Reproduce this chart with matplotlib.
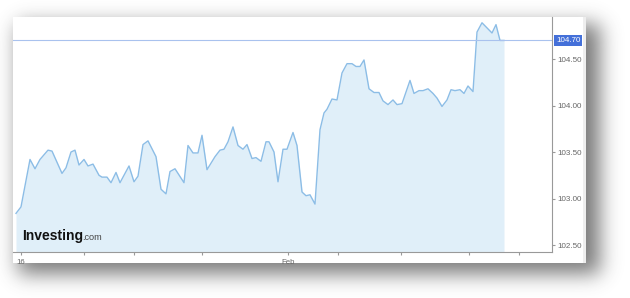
import numpy as np
import matplotlib.pyplot as plt
from matplotlib.patches import Rectangle
import matplotlib.transforms as mtransforms

# time position (chart units) and price
t = [16, 21, 30, 35, 40, 48, 52, 62, 66, 71, 75, 79, 84, 88, 93, 99, 102, 107, 111, 116,
     120, 129, 134, 138, 143, 148, 156, 161, 166, 170, 175, 184, 188, 193, 198, 202, 207, 215, 220, 224,
     228, 233, 238, 243, 247, 252, 256, 261, 266, 269, 274, 278, 283, 287, 293, 297, 302, 306, 310, 315,
     320, 324, 327, 332, 337, 342, 347, 352, 356, 360, 364, 369, 374, 379, 383, 388, 393, 397, 402, 410,
     414, 419, 423, 428, 433, 437, 442, 447, 451, 455, 460, 464, 468, 473, 477, 482, 492, 496, 500, 504]
price = [102.84, 102.91, 103.42, 103.32, 103.42, 103.52, 103.51, 103.27, 103.33, 103.50,
         103.52, 103.36, 103.42, 103.35, 103.37, 103.25, 103.23, 103.23, 103.17, 103.28,
         103.17, 103.35, 103.18, 103.24, 103.58, 103.62, 103.45, 103.10, 103.05, 103.29,
         103.32, 103.17, 103.57, 103.49, 103.49, 103.68, 103.31, 103.45, 103.52, 103.53,
         103.61, 103.77, 103.57, 103.53, 103.58, 103.43, 103.44, 103.40, 103.61, 103.61,
         103.50, 103.18, 103.53, 103.53, 103.71, 103.57, 103.07, 103.03, 103.04, 102.94,
         103.74, 103.92, 103.96, 104.07, 104.06, 104.35, 104.45, 104.45, 104.42, 104.42,
         104.49, 104.18, 104.14, 104.14, 104.05, 104.01, 104.06, 104.01, 104.02, 104.27,
         104.13, 104.16, 104.16, 104.18, 104.13, 104.08, 103.99, 104.06, 104.17, 104.16,
         104.17, 104.13, 104.21, 104.15, 104.79, 104.89, 104.78, 104.87, 104.70, 104.70]
last_price = 104.70
y_ticks = [102.5, 103.0, 103.5, 104.0, 104.5]
x_ticks = [21, 84, 134, 202, 288, 338, 401, 469, 519]
x_labels = ["16", "", "", "", "Feb", "", "", "", ""]

plt.rcParams['font.family'] = ['Liberation Sans', 'DejaVu Sans']

W, H = 630, 298
fig = plt.figure(figsize=(W / 100, H / 100), dpi=100)

# background with a soft drop shadow behind the card
bg = fig.add_axes([0, 0, 1, 1])
mask = np.zeros((H, W))
mask[24:274, 18:600] = 1.0
k = np.arange(-36, 37)
kern = np.exp(-0.5 * (k / 10.0) ** 2)
kern /= kern.sum()
blur = np.apply_along_axis(lambda r: np.convolve(r, kern, mode='same'), 1, mask)
blur = np.apply_along_axis(lambda c: np.convolve(c, kern, mode='same'), 0, blur)
shadow = np.zeros((H, W, 4))
shadow[..., :3] = 0.28
shadow[..., 3] = blur * 0.72
bg.imshow(shadow, extent=[0, W, H, 0], interpolation='bilinear', aspect='auto')
bg.add_patch(Rectangle((13, 17), 573, 246, facecolor='white', edgecolor='none'))
bg.add_patch(Rectangle((583, 17), 3, 246, facecolor='#eeeeee', edgecolor='none'))
bg.set_xlim(0, W)
bg.set_ylim(H, 0)
bg.axis('off')

# main chart
left, right, top, bottom = 13, 552, 17, 251.7
ax = fig.add_axes([left / W, 1 - bottom / H, (right - left) / W, (bottom - top) / H])
ax.set_facecolor('white')
ymin, ymax = 102.428, 104.952
ax.fill_between(t, price, ymin, color='#e0eff9', lw=0)
ax.plot(t, price, color='#8cbde6', lw=1.0)
ax.axhline(last_price, color='#a9c2ee', lw=0.8)
ax.set_xlim(left, right)
ax.set_ylim(ymin, ymax)

for s in ['top', 'left']:
    ax.spines[s].set_visible(False)
for s in ['bottom', 'right']:
    ax.spines[s].set_color('#999999')
    ax.spines[s].set_linewidth(0.8)

ax.yaxis.tick_right()
ax.set_yticks(y_ticks)
ax.set_yticklabels([f"{v:.2f}" for v in y_ticks])
ax.tick_params(axis='y', labelsize=5.8, colors='#999999', labelcolor='#666666', length=2, pad=2)
ax.set_xticks(x_ticks)
ax.set_xticklabels(x_labels)
ax.tick_params(axis='x', labelsize=5.6, colors='#999999', labelcolor='#666666', length=2.5, pad=2.5)

# last price tag
trans = mtransforms.blended_transform_factory(ax.transAxes, ax.transData)
ax.text(1 + 4 / (right - left), last_price, f"{last_price:.2f}", transform=trans,
        ha='left', va='center', color='white', fontsize=5.8, clip_on=False,
        bbox=dict(boxstyle='square,pad=0.25', fc='#4470d9', ec='none'))

# logo
fig.text(22 / W, 1 - 240 / H, "Investing", fontsize=10, fontweight='bold', color='#111111', va='baseline')
fig.text(82 / W, 1 - 240 / H, ".com", fontsize=6.6, color='#444444', va='baseline')

fig.savefig('out.png', dpi=100)
